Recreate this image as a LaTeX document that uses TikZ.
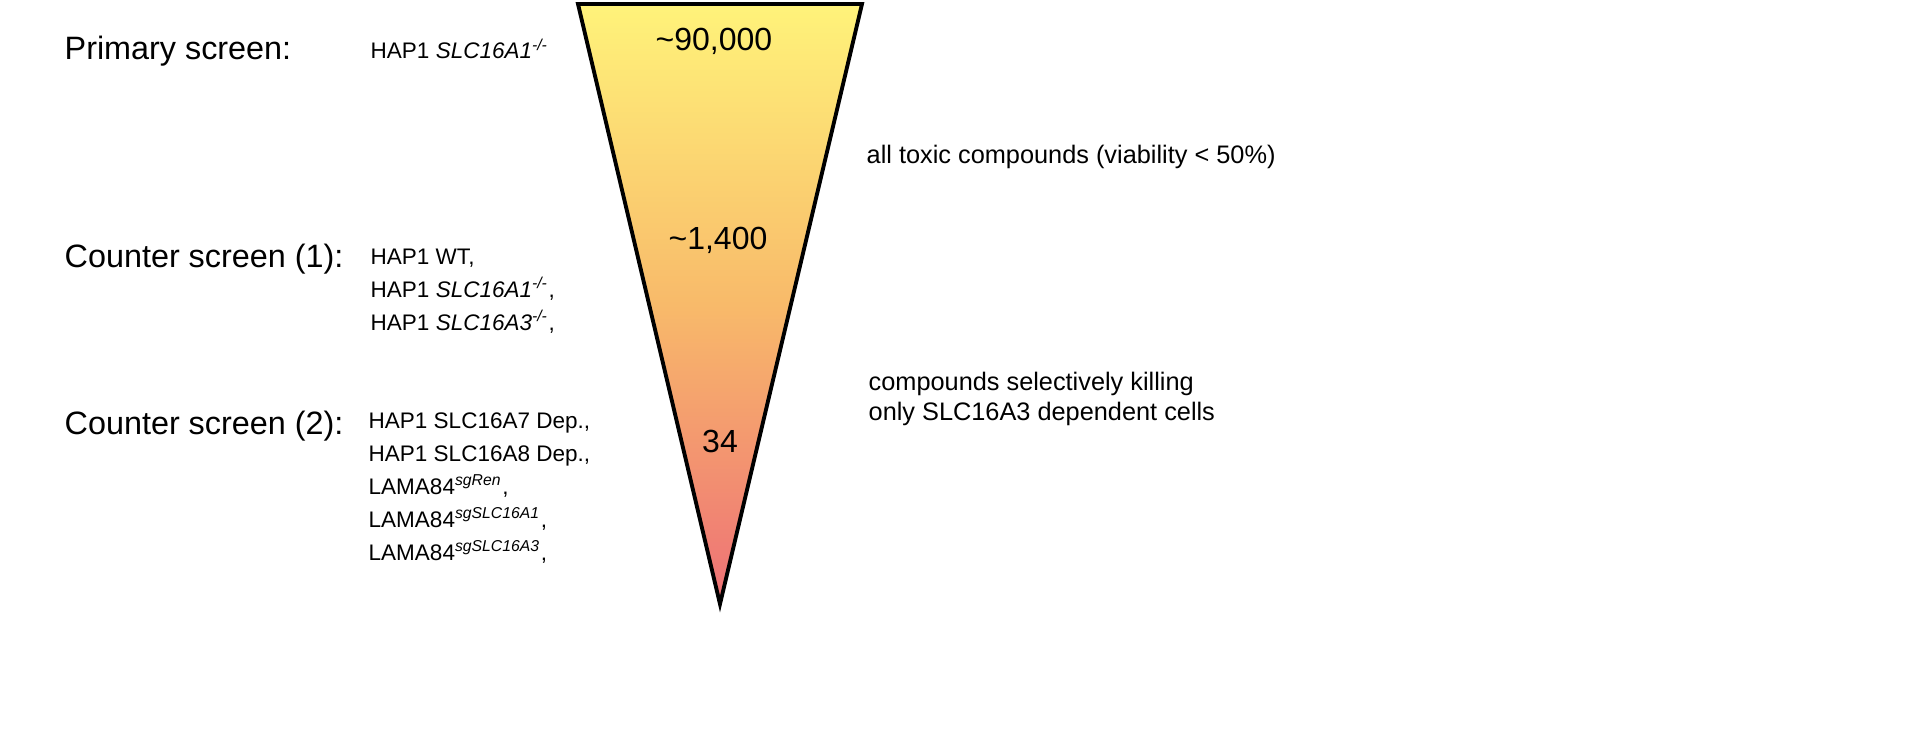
\documentclass[tikz,border=0pt]{standalone}
\usepackage{fontspec}
\setmainfont{Liberation Sans}
\begin{document}
\begin{tikzpicture}[x=0.01cm, y=-0.01cm,
  head/.style={anchor=west, inner sep=0pt, font=\fontsize{9.2}{11}\selectfont},
  celllist/.style={anchor=north west, inner sep=0pt, align=left, font=\fontsize{6.4}{9.4}\selectfont},
  count/.style={inner sep=0pt, font=\fontsize{9.1}{11}\selectfont},
  note/.style={anchor=west, inner sep=0pt, align=left, font=\fontsize{7.2}{8.6}\selectfont}]
  \useasboundingbox (0,0) rectangle (1920,750);

  % funnel
  \coordinate (tl) at (578,4);
  \coordinate (tr) at (862,4);
  \coordinate (tip) at (720,604);
  \shade[top color={rgb,255:red,255;green,243;blue,122}, bottom color={rgb,255:red,238;green,112;blue,118},
    middle color={rgb,255:red,248;green,186;blue,106}] (tl) -- (tr) -- (tip) -- cycle;
  \draw[line width=1.1pt, line join=miter] (tl) -- (tr) -- (tip) -- cycle;

  \node[count] (n1) at (714,41) {\textasciitilde 90,000};
  \node[count] (n2) at (718,240) {\textasciitilde 1,400};
  \node[count] (n3) at (720,441) {34};

  % screens
  \node[head] (primary) at (64,51) {Primary screen:};
  \node[head] (counter1) at (64,259) {Counter screen (1):};
  \node[head] (counter2) at (64,426) {Counter screen (2):};

  \node[celllist] (c0) at (370,38) {HAP1 \textit{SLC16A1}\textsuperscript{\textit{-/-}}};
  \node[celllist] (c1) at (370,248) {HAP1 WT,\\HAP1 \textit{SLC16A1}\textsuperscript{\textit{-/-}},\\HAP1 \textit{SLC16A3}\textsuperscript{\textit{-/-}},};
  \node[celllist] (c2) at (368,412) {HAP1 SLC16A7 Dep.,\\HAP1 SLC16A8 Dep.,\\LAMA84\textsuperscript{\textit{sgRen}},\\LAMA84\textsuperscript{\textit{sgSLC16A1}},\\LAMA84\textsuperscript{\textit{sgSLC16A3}},};

  % notes
  \node[note] (all) at (866,157) {all toxic compounds (viability < 50\%)};
  \node[note] (sel) at (868,399) {compounds selectively killing\\only SLC16A3 dependent cells};
\end{tikzpicture}
\end{document}
